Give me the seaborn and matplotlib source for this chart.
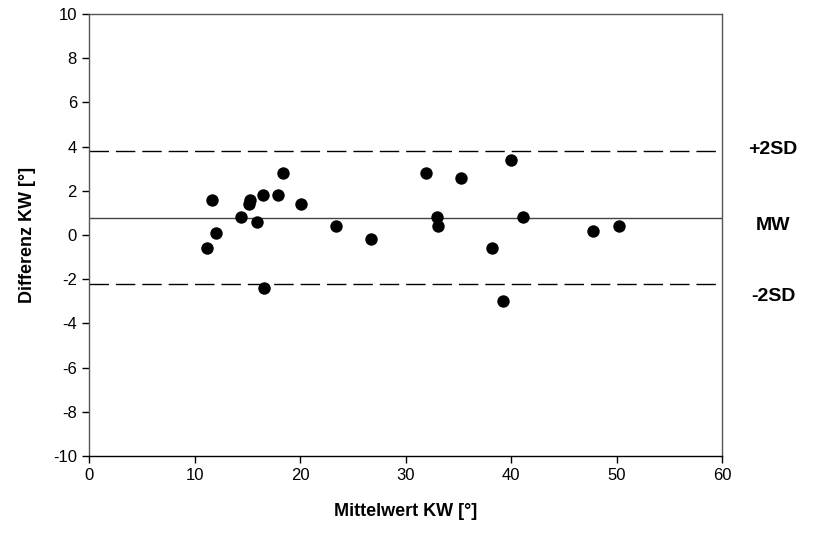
import matplotlib
matplotlib.use("Agg")
import matplotlib.pyplot as plt
import seaborn as sns
import pandas as pd

# Data (Bland-Altman plot)
mittelwert = [11.1, 11.6, 12.0, 14.4, 15.1, 15.2, 15.9, 16.5, 16.6, 17.9, 18.4, 20.1,
              23.4, 26.7, 31.9, 33.0, 33.1, 35.2, 38.2, 39.2, 40.0, 41.1, 47.8, 50.2]
differenz = [-0.6, 1.6, 0.1, 0.8, 1.4, 1.6, 0.6, 1.8, -2.4, 1.8, 2.8, 1.4,
             0.4, -0.2, 2.8, 0.8, 0.4, 2.6, -0.6, -3.0, 3.4, 0.8, 0.2, 0.4]
mw_value = 0.78
upper_2sd = 3.79
lower_2sd = -2.23
ref_labels = ["+2SD", "MW", "-2SD"]
x_ticks = [0, 10, 20, 30, 40, 50, 60]
y_ticks = [-10, -8, -6, -4, -2, 0, 2, 4, 6, 8, 10]

df = pd.DataFrame({"Mittelwert": mittelwert, "Differenz": differenz})

sns.set_theme(style="ticks")
plt.rcParams["font.family"] = ["Liberation Sans", "DejaVu Sans"]
plt.rcParams["axes.unicode_minus"] = False

fig = plt.figure(figsize=(8.21, 5.36), dpi=100)
ax = fig.add_axes([0.109, 0.1493, 0.7704, 0.8246])

ax.axhline(upper_2sd, color="black", lw=1.0, ls=(0, (14, 5)))
ax.axhline(lower_2sd, color="black", lw=1.0, ls=(0, (14, 5)))
ax.axhline(mw_value, color="#444444", lw=1.0)

sns.scatterplot(data=df, x="Mittelwert", y="Differenz", ax=ax, s=80,
                color="black", edgecolor="black", linewidth=0, zorder=3)

ax.set_xlim(0, 60)
ax.set_ylim(-10, 10)
ax.set_xticks(x_ticks)
ax.set_yticks(y_ticks)
ax.tick_params(axis="both", direction="out", length=5, width=1, labelsize=12,
               colors="black", pad=4)
for sp in ax.spines.values():
    sp.set_color("#555555")
    sp.set_linewidth(1.0)
ax.spines["bottom"].set_color("black")

ax.set_xlabel("Mittelwert KW [°]", fontsize=13, fontweight="bold", labelpad=14,
              color="black")
ax.set_ylabel("Differenz KW [°]", fontsize=13, fontweight="bold", labelpad=12,
              color="black")

ref_y = [3.85, 0.45, -2.8]
for lab, yv in zip(ref_labels, ref_y):
    ax.text(1.081, yv, lab, transform=ax.get_yaxis_transform(), ha="center",
            va="center", fontsize=14, fontweight="bold", color="black")

fig.savefig("out.png", dpi=100)
